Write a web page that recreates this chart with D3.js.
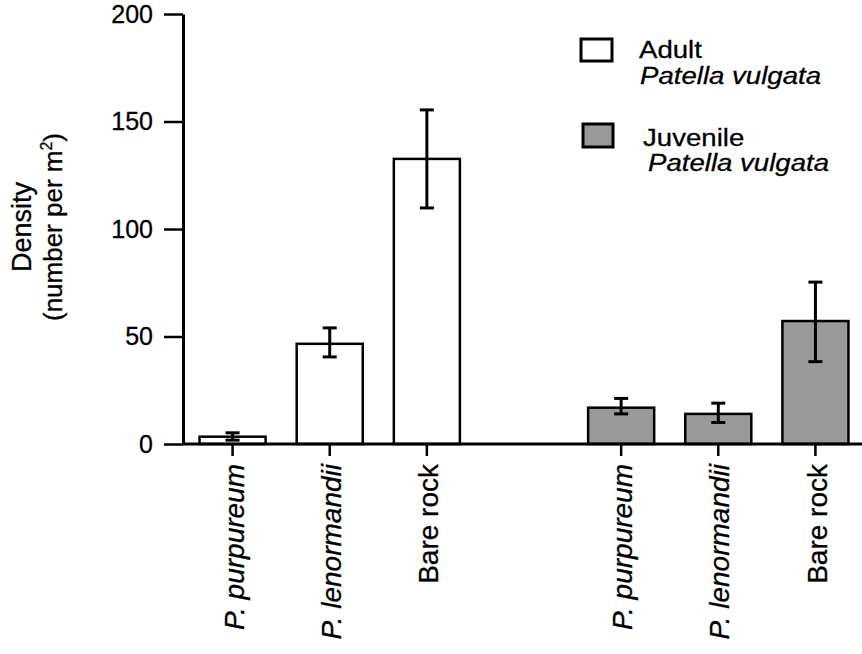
<!DOCTYPE html>
<html>
<head>
<meta charset="utf-8">
<script src="https://cdn.jsdelivr.net/npm/d3@7"></script>
<style>
  body { margin: 0; background: #fff; }
  text { font-family: "Liberation Sans", Arial, Helvetica, sans-serif; fill: #000; }
</style>
</head>
<body>
<svg id="chart" width="862" height="654"></svg>
<script>
// data
const groups = ["Adult", "Juvenile"];
const substrates = ["P. purpureum", "P. lenormandii", "Bare rock"];
const italicSubstrate = [true, true, false];
const adultMean = [3.4, 46.6, 132.6];
const adultLow = [1.8, 40.5, 109.8];
const adultHigh = [5.2, 54.0, 155.4];
const juvenileMean = [16.9, 14.0, 57.2];
const juvenileLow = [14.0, 10.0, 38.3];
const juvenileHigh = [21.2, 19.0, 75.3];
const yTicks = [0, 50, 100, 150, 200];
const groupFill = { Adult: "#ffffff", Juvenile: "#999999" };

const svg = d3.select("#chart");

// flatten into bars
let bars = [];
[[adultMean, adultLow, adultHigh], [juvenileMean, juvenileLow, juvenileHigh]].forEach((s, gi) => {
    substrates.forEach((sub, i) => {
        bars.push({
            key: groups[gi] + "|" + sub, group: groups[gi], sub: sub, italic: italicSubstrate[i],
            mean: s[0][i], low: s[1][i], high: s[2][i]
        });
    });
});
// empty slot between the two groups
let keys = bars.filter(b => b.group === "Adult").map(b => b.key)
    .concat(["gap"])
    .concat(bars.filter(b => b.group === "Juvenile").map(b => b.key));

const x = d3.scaleBand().domain(keys).range([184, 864]).paddingInner(0.32).paddingOuter(0.16);
const y = d3.scaleLinear().domain([0, 200]).range([444, 14]);
const axisX = 183;

// y axis
const yAxis = d3.axisLeft(y).tickValues(yTicks).tickSize(19).tickPadding(11).tickSizeOuter(0);
const gy = svg.append("g").attr("transform", `translate(${axisX},0)`).call(yAxis);
gy.select(".domain").attr("stroke", "#000").attr("stroke-width", 3);
gy.selectAll(".tick line").attr("stroke", "#000").attr("stroke-width", 2.5);
gy.selectAll(".tick text").attr("font-size", 25).attr("font-family", "Liberation Sans, Arial, sans-serif")
    .attr("stroke", "#000").attr("stroke-width", 0.3);

// bars
svg.append("g").selectAll("rect").data(bars).join("rect")
    .attr("x", d => x(d.key))
    .attr("y", d => y(d.mean))
    .attr("width", x.bandwidth())
    .attr("height", d => y(0) - y(d.mean))
    .attr("fill", d => groupFill[d.group])
    .attr("stroke", "#000")
    .attr("stroke-width", 2.5);

// error bars
const cap = 14;
const eb = svg.append("g").attr("stroke", "#000").attr("stroke-width", 3);
bars.forEach(d => {
    let cx = x(d.key) + x.bandwidth() / 2;
    eb.append("line").attr("x1", cx).attr("x2", cx).attr("y1", y(d.high)).attr("y2", y(d.low));
    eb.append("line").attr("x1", cx - cap / 2).attr("x2", cx + cap / 2).attr("y1", y(d.high)).attr("y2", y(d.high));
    eb.append("line").attr("x1", cx - cap / 2).attr("x2", cx + cap / 2).attr("y1", y(d.low)).attr("y2", y(d.low));
});

// baseline and category ticks
svg.append("line").attr("x1", axisX).attr("x2", 862).attr("y1", y(0)).attr("y2", y(0))
    .attr("stroke", "#000").attr("stroke-width", 3);
svg.append("g").selectAll("line").data(bars).join("line")
    .attr("x1", d => x(d.key) + x.bandwidth() / 2)
    .attr("x2", d => x(d.key) + x.bandwidth() / 2)
    .attr("y1", y(0)).attr("y2", y(0) + 12)
    .attr("stroke", "#000").attr("stroke-width", 2.5);

// category labels, rotated
svg.append("g").selectAll("text").data(bars).join("text")
    .attr("transform", d => `translate(${x(d.key) + x.bandwidth() / 2 + 1},464) rotate(-90)`)
    .attr("text-anchor", "end")
    .attr("dy", "0.36em")
    .attr("font-size", 28)
    .attr("stroke", "#000").attr("stroke-width", 0.3)
    .attr("font-style", d => d.italic ? "italic" : "normal")
    .text(d => d.sub);

// y title
const yt = svg.append("g").attr("transform", "translate(0,227) rotate(-90)")
    .attr("stroke", "#000").attr("stroke-width", 0.3);
yt.append("text").attr("x", 0).attr("y", 31).attr("text-anchor", "middle").attr("font-size", 27).text("Density");
const t2 = yt.append("text").attr("x", 0).attr("y", 62).attr("text-anchor", "middle").attr("font-size", 26);
t2.append("tspan").text("(number per m");
t2.append("tspan").attr("font-size", 16).attr("dy", -10).text("2");
t2.append("tspan").attr("dy", 10).text(")");

// legend
const legend = [
    { group: "Adult", box: [581, 39, 31, 22], lines: [[639, 58, "Adult", false], [640, 84, "Patella vulgata", true]] },
    { group: "Juvenile", box: [583, 124, 30, 23], lines: [[643, 146, "Juvenile", false], [648, 171, "Patella vulgata", true]] }
];
const lg = svg.append("g");
legend.forEach(l => {
    lg.append("rect").attr("x", l.box[0]).attr("y", l.box[1]).attr("width", l.box[2]).attr("height", l.box[3])
        .attr("fill", groupFill[l.group]).attr("stroke", "#000").attr("stroke-width", 3);
    l.lines.forEach(t => {
        lg.append("text").attr("transform", `translate(${t[0]},${t[1]}) scale(1.15,1)`)
            .attr("font-size", 24).attr("font-style", t[3] ? "italic" : "normal")
            .attr("stroke", "#000").attr("stroke-width", 0.3)
            .text(t[2]);
    });
});
</script>
</body>
</html>
